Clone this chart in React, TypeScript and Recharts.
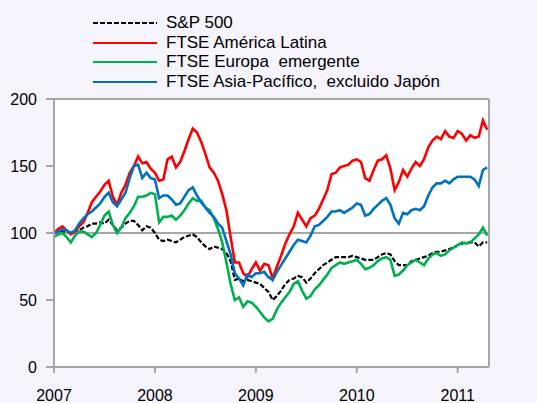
import React from 'react';
import { LineChart, Line, XAxis, YAxis, CartesianGrid, ReferenceLine } from 'recharts';

// Semi-monthly readings, first value = early January 2007
const latam = [
  100, 103, 105, 102, 99, 101, 105, 108, 115, 123, 127, 131, 136, 139, 127, 121, 130, 136, 145, 150, 157, 152, 153, 148,
  145, 139, 140, 155, 157, 149, 153, 161, 170, 178, 175, 168, 159, 149, 145, 139, 129, 117, 97, 78, 78, 70, 67, 73,
  78, 72, 77, 76, 66, 75, 83, 92, 99, 105, 115, 110, 105, 111, 113, 118, 125, 132, 144, 145, 149, 150, 151, 154,
  155, 153, 141, 139, 147, 154, 155, 158, 148, 132, 138, 147, 142, 148, 153, 150, 155, 164, 169, 172, 170, 176, 172, 171,
  176, 174, 169, 173, 171, 172, 184, 177,
];

const asia = [
  100, 101, 103, 102, 100, 102, 107, 111, 114, 116, 119, 122, 127, 130, 123, 120, 125, 130, 141, 150, 151, 141, 145, 141,
  140, 126, 128, 128, 125, 121, 122, 127, 132, 134, 128, 123, 119, 115, 112, 107, 104, 94, 84, 70, 66, 61, 69, 67,
  70, 70, 71, 67, 65, 71, 76, 81, 86, 91, 95, 94, 93, 98, 105, 106, 109, 112, 116, 116, 117, 115, 117, 119,
  122, 121, 113, 114, 118, 121, 124, 126, 121, 111, 107, 115, 114, 117, 118, 117, 120, 128, 134, 137, 137, 139, 137, 140,
  142, 142, 142, 142, 140, 135, 147, 149,
];

const europa = [
  97, 99, 100, 97, 93, 98, 101, 101, 99, 97, 100, 106, 113, 116, 106, 100, 104, 111, 115, 120, 127, 127, 128, 130,
  129, 108, 112, 112, 113, 110, 113, 117, 122, 126, 124, 124, 119, 117, 111, 103, 93, 78, 62, 50, 52, 45, 49, 48,
  45, 41, 37, 34, 36, 43, 48, 52, 56, 62, 64, 57, 51, 53, 58, 61, 65, 69, 74, 76, 78, 77, 78, 79,
  80, 77, 73, 74, 76, 79, 81, 82, 80, 68, 69, 72, 76, 78, 80, 78, 76, 81, 84, 85, 83, 84, 87, 89,
  91, 93, 92, 93, 96, 99, 104, 98,
];

const sp500 = [
  100, 102, 101, 101, 100, 102, 102, 104, 105, 107, 107, 108, 107, 110, 106, 102, 104, 107, 109, 109, 106, 102, 105, 104,
  100, 95, 94, 95, 94, 93, 95, 97, 98, 99, 97, 93, 90, 88, 90, 89, 88, 85, 79, 65, 66, 64, 65, 64,
  63, 62, 59, 56, 50, 53, 57, 62, 65, 66, 68, 67, 63, 66, 70, 73, 76, 78, 80, 82, 82, 82, 82, 83,
  82, 81, 80, 80, 80, 82, 84, 85, 84, 79, 76, 76, 76, 79, 80, 81, 82, 83, 85, 86, 86, 87, 88, 89,
  91, 92, 93, 93, 93, 90, 93, 93,
];

const yearTicks = [2007, 2008, 2009, 2010, 2011];
const valueTicks = [0, 50, 100, 150, 200];

const series = [
  { key: 'sp500', name: 'S&P 500', color: '#000000', dash: '5 2', width: 2.2 },
  { key: 'latam', name: 'FTSE América Latina', color: '#FF0000', dash: undefined, width: 2.6 },
  { key: 'europa', name: 'FTSE Europa  emergente', color: '#00B050', dash: undefined, width: 2.6 },
  { key: 'asia', name: 'FTSE Asia-Pacífico,  excluido Japón', color: '#0070C0', dash: undefined, width: 2.6 },
];

const data = latam.map((v, i) => ({
  t: 2007 + i / 24,
  latam: v,
  asia: asia[i],
  europa: europa[i],
  sp500: sp500[i],
}));

const FONT = 'Arial, "Liberation Sans", sans-serif';
const GRAY = '#A6A6A6';

const RightTick = (props: any) => {
  const { x, y, payload } = props;
  return (
    <g>
      <line x1={x - 22} x2={x - 16} y1={y} y2={y} stroke={GRAY} strokeWidth={2} />
      <text x={x} y={y} dy="0.355em" textAnchor="start" fontSize={16} fontFamily={FONT} fill="#000">
        {payload.value}
      </text>
    </g>
  );
};

const App: React.FC = () => {
  return (
    <div
      style={{
        position: 'absolute',
        left: 0,
        top: 0,
        width: 537,
        height: 403,
        overflow: 'hidden',
        background: '#F5F3FC',
        fontFamily: FONT,
      }}
    >
      {/* subtitle sits mostly above the frame, only the brackets peek in */}
      <div style={{ position: 'absolute', left: 13, top: -17, fontSize: 16, whiteSpace: 'nowrap' }}>
        (índices: 1 de enero de 2007 = 100)
      </div>

      <div style={{ position: 'absolute', left: 93, top: 13 }}>
        {series.map((s) => (
          <div key={s.key} style={{ display: 'flex', alignItems: 'center', height: 19.7 }}>
            <svg width={64} height={4} style={{ display: 'block' }}>
              <line x1={0} x2={64} y1={2} y2={2} stroke={s.color} strokeWidth={2} strokeDasharray={s.dash} />
            </svg>
            <span style={{ marginLeft: 9, fontSize: 17, color: '#000', whiteSpace: 'pre' }}>{s.name}</span>
          </div>
        ))}
      </div>

      <div style={{ position: 'absolute', left: 0, top: 0 }}>
        <LineChart width={537} height={403} data={data} margin={{ top: 99, right: 0, bottom: 0, left: 0 }}>
          <CartesianGrid horizontal={false} vertical={false} fill="#FFFFFF" stroke="none" />
          <XAxis
            type="number"
            dataKey="t"
            domain={[2007, 2011.31]}
            ticks={yearTicks}
            height={36}
            tickSize={6}
            tickMargin={17}
            axisLine={{ stroke: GRAY, strokeWidth: 2 }}
            tickLine={{ stroke: GRAY, strokeWidth: 2 }}
            tick={{ fontSize: 16, fontFamily: FONT, fill: '#000' }}
            allowDataOverflow
          />
          <YAxis
            yAxisId="left"
            domain={[0, 200]}
            ticks={valueTicks}
            width={54}
            tickSize={8}
            tickMargin={9}
            axisLine={{ stroke: GRAY, strokeWidth: 2 }}
            tickLine={{ stroke: GRAY, strokeWidth: 2 }}
            tick={{ fontSize: 16, fontFamily: FONT, fill: '#000' }}
          />
          <YAxis
            yAxisId="right"
            orientation="right"
            domain={[0, 200]}
            ticks={valueTicks}
            width={48}
            tickSize={6}
            tickMargin={10}
            axisLine={{ stroke: GRAY, strokeWidth: 2 }}
            tickLine={false}
            tick={<RightTick />}
          />
          <ReferenceLine yAxisId="left" y={200} stroke={GRAY} strokeWidth={2} />
          <ReferenceLine yAxisId="left" y={100} stroke={GRAY} strokeWidth={2} />
          {series.map((s) => (
            <Line
              key={s.key}
              yAxisId="left"
              type="linear"
              dataKey={s.key}
              name={s.name}
              stroke={s.color}
              strokeWidth={s.width}
              strokeDasharray={s.dash}
              dot={false}
              isAnimationActive={false}
            />
          ))}
        </LineChart>
      </div>
    </div>
  );
};

export default App;
